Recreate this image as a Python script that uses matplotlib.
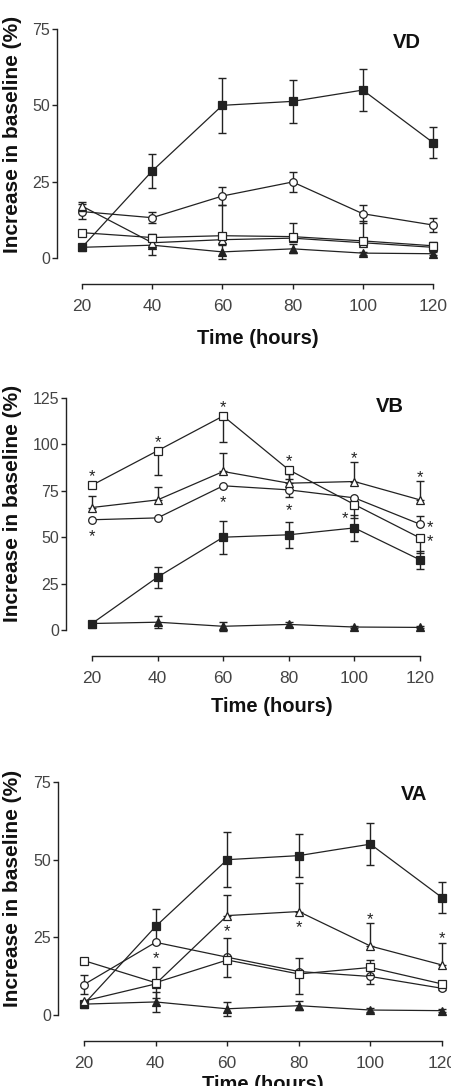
import numpy as np
import matplotlib
matplotlib.use('Agg')
import matplotlib.pyplot as plt

plt.rcParams['font.family'] = ['Liberation Sans', 'DejaVu Sans']

# --- data ---
hours = [20, 40, 60, 80, 100, 120]

# the two filled series are the same in every panel
filled_sq = [3.5, 28.5, 50.0, 51.3, 55.0, 37.8]
filled_sq_err = [0.5, 5.7, 8.9, 7.0, 6.8, 5.0]
filled_tri = [3.5, 4.2, 2.0, 3.0, 1.6, 1.4]
filled_tri_err = [0.5, 3.2, 2.3, 1.5, 0.5, 0.5]

# VD
vd_circle = [15.2, 13.2, 20.3, 24.9, 14.5, 10.8]
vd_circle_lo = [2.5, 1.8, 2.8, 3.2, 3.0, 2.2]
vd_circle_hi = [2.5, 1.8, 2.8, 3.2, 3.0, 2.2]
vd_square = [8.3, 6.7, 7.3, 7.0, 5.6, 4.0]
vd_square_lo = [1.0, 1.0, 1.0, 1.0, 1.0, 1.2]
vd_square_hi = [1.0, 1.0, 1.0, 4.5, 1.0, 1.2]
vd_tri = [17.0, 5.0, 6.0, 6.5, 5.0, 3.5]
vd_tri_lo = [1.5, 1.5, 1.0, 1.0, 1.0, 1.0]
vd_tri_hi = [1.5, 1.5, 11.5, 1.0, 7.0, 1.0]

# VB
vb_circle = [59.4, 60.4, 77.7, 75.5, 71.2, 57.0]
vb_circle_lo = [0, 0, 0, 4.0, 0, 0]
vb_circle_hi = [0, 0, 0, 0, 0, 4.5]
vb_square = [78.0, 96.6, 115.3, 86.3, 67.6, 49.6]
vb_square_lo = [0, 13.0, 14.0, 5.0, 7.5, 8.0]
vb_square_hi = [0, 0, 0, 0, 0, 0]
vb_tri = [66.0, 70.1, 85.4, 79.1, 80.0, 70.1]
vb_tri_lo = [0, 0, 0, 0, 0, 0]
vb_tri_hi = [6.0, 7.0, 10.0, 5.0, 10.3, 10.0]

# VA
va_circle = [9.8, 23.4, 18.6, 14.0, 12.4, 8.6]
va_circle_lo = [3.0, 0, 0, 0, 2.5, 0.5]
va_circle_hi = [3.0, 0, 0, 0, 2.5, 0.5]
va_square = [17.5, 10.4, 17.7, 13.2, 15.3, 10.0]
va_square_lo = [0, 5.0, 5.4, 6.5, 2.5, 0]
va_square_hi = [0, 5.0, 7.2, 5.0, 2.5, 0]
va_tri = [4.5, 10.0, 32.0, 33.3, 22.2, 16.1]
va_tri_lo = [0, 0, 0, 0, 0, 0]
va_tri_hi = [0, 0, 6.7, 9.2, 7.3, 7.2]

# significance stars: (series, index, placement)
vd_stars = []
vb_stars = [('square', 0, 'above'), ('circle', 0, 'below'),
            ('square', 1, 'above'),
            ('square', 2, 'above'), ('circle', 2, 'below'),
            ('square', 3, 'above'), ('circle', 3, 'below'),
            ('tri', 4, 'above'), ('square', 4, 'left'),
            ('tri', 5, 'above'), ('circle', 5, 'right'), ('square', 5, 'right')]
va_stars = [('circle', 1, 'below'), ('tri', 2, 'below'), ('tri', 3, 'below'),
            ('tri', 4, 'above'), ('tri', 5, 'above')]

W, H = 452, 1086
fig = plt.figure(figsize=(W / 100, H / 100), dpi=100)
PX = 0.72  # points per pixel
INK = '#222222'

panels = [
    dict(name='VD', ymax=75, yticks=[0, 25, 50, 75],
         series=dict(circle=(vd_circle, vd_circle_lo, vd_circle_hi),
                     square=(vd_square, vd_square_lo, vd_square_hi),
                     tri=(vd_tri, vd_tri_lo, vd_tri_hi)),
         stars=vd_stars,
         left=57, x20=82, x120=433, right=445, y0=258, ytop=29,
         label_xy=(407, 43), ylab_xy=(12.5, 134), xlab_xy=(258, 338)),
    dict(name='VB', ymax=125, yticks=[0, 25, 50, 75, 100, 125],
         series=dict(circle=(vb_circle, vb_circle_lo, vb_circle_hi),
                     square=(vb_square, vb_square_lo, vb_square_hi),
                     tri=(vb_tri, vb_tri_lo, vb_tri_hi)),
         stars=vb_stars,
         left=66, x20=92, x120=420, right=440, y0=630, ytop=398,
         label_xy=(390, 407), ylab_xy=(12.5, 503), xlab_xy=(272, 706)),
    dict(name='VA', ymax=75, yticks=[0, 25, 50, 75],
         series=dict(circle=(va_circle, va_circle_lo, va_circle_hi),
                     square=(va_square, va_square_lo, va_square_hi),
                     tri=(va_tri, va_tri_lo, va_tri_hi)),
         stars=va_stars,
         left=58, x20=84, x120=442, right=452, y0=1015, ytop=782,
         label_xy=(414, 795), ylab_xy=(13, 888), xlab_xy=(263, 1084)),
]


def draw_series(ax, vals, lo, hi, marker, filled, z):
    x = np.array(hours, dtype=float)
    v = np.array(vals, dtype=float)
    lo = np.array(lo, dtype=float)
    hi = np.array(hi, dtype=float)
    m = (lo > 0) | (hi > 0)
    if m.any():
        ax.errorbar(x[m], v[m], yerr=[lo[m], hi[m]], fmt='none', ecolor=INK,
                    elinewidth=1.0, capsize=2.8, capthick=1.0, zorder=z,
                    clip_on=False)
    ax.plot(x, v, color=INK, lw=0.9, marker=marker, ms=5.5 if marker != '^' else 6,
            mfc=INK if filled else 'white', mec=INK, mew=0.9, zorder=z + 0.5,
            clip_on=False)


for p in panels:
    ppu = (p['x120'] - p['x20']) / 100
    xmin = 20 - (p['x20'] - p['left']) / ppu
    xmax = 120 + (p['right'] - p['x120']) / ppu
    ax = fig.add_axes([p['left'] / W, 1 - p['y0'] / H,
                       (p['right'] - p['left']) / W, (p['y0'] - p['ytop']) / H])
    ax.set_xlim(xmin, xmax)
    ax.set_ylim(0, p['ymax'])
    ax.patch.set_visible(False)

    for s in ['top', 'right']:
        ax.spines[s].set_visible(False)
    ax.spines['left'].set_bounds(0, p['ymax'])
    ax.spines['bottom'].set_bounds(20, 120)
    ax.spines['bottom'].set_position(('outward', 26 * PX))
    for s in ['left', 'bottom']:
        ax.spines[s].set_color(INK)
        ax.spines[s].set_linewidth(1.0)

    ax.set_xticks(hours)
    ax.set_yticks(p['yticks'])
    ax.tick_params(axis='x', labelsize=12.5, length=5 * PX, width=1.0,
                   color=INK, labelcolor='#444444', pad=7)
    ax.tick_params(axis='y', labelsize=11.5, length=5 * PX, width=1.0,
                   color=INK, labelcolor='#444444', pad=1.5)

    draw_series(ax, filled_sq, filled_sq_err, filled_sq_err, 's', True, 2)
    draw_series(ax, filled_tri, filled_tri_err, filled_tri_err, '^', True, 3)
    sr = p['series']
    draw_series(ax, *sr['circle'], 'o', False, 4)
    draw_series(ax, *sr['tri'], '^', False, 5)
    draw_series(ax, *sr['square'], 's', False, 6)

    # stars
    for key, i, where in p['stars']:
        vals, lo, hi = sr[key]
        xv = hours[i]
        if where == 'above':
            yv = vals[i] + hi[i]
            off = (0, (12 if hi[i] == 0 else 7) * PX)
        elif where == 'below':
            yv = vals[i] - lo[i]
            off = (0, -(13 if lo[i] == 0 else 10) * PX)
        elif where == 'right':
            yv = vals[i]
            off = (10 * PX, 0)
        else:
            yv = vals[i]
            off = (-9 * PX, -11 * PX)
        ax.annotate('*', (xv, yv), xytext=(off[0], off[1] - 2.5),
                    textcoords='offset points', ha='center', va='center',
                    fontsize=12, color=INK, annotation_clip=False)

    lx, ly = p['label_xy']
    fig.text(lx / W, 1 - ly / H, p['name'], ha='center', va='center',
             fontsize=14.5, fontweight='bold', color='#111111')
    yx, yy = p['ylab_xy']
    fig.text(yx / W, 1 - yy / H, 'Increase in baseline (%)', rotation=90,
             ha='center', va='center', fontsize=15, fontweight='bold',
             color='#111111')
    xx, xy = p['xlab_xy']
    fig.text(xx / W, 1 - xy / H, 'Time (hours)', ha='center', va='center',
             fontsize=14.5, fontweight='bold', color='#111111')

fig.savefig('out.png', dpi=100)
